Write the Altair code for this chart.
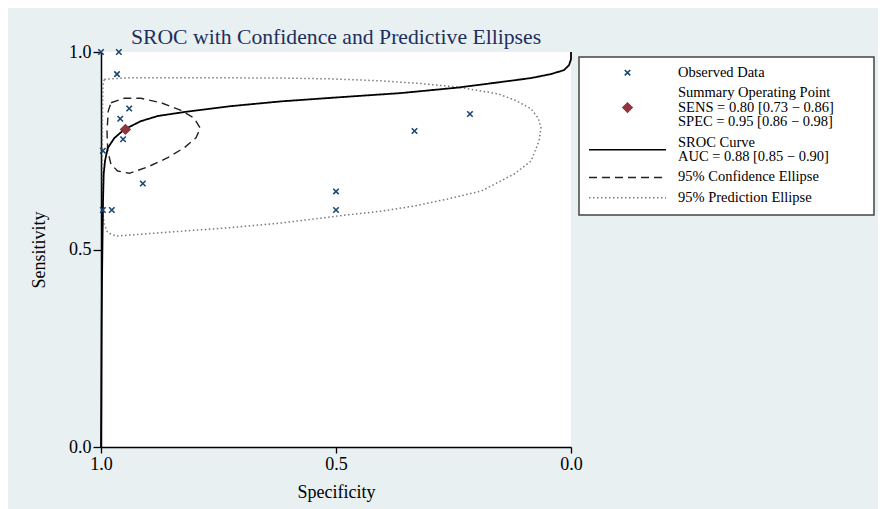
import altair as alt
import pandas as pd

SERIF = "Liberation Serif"

# ---------------- data ----------------
series_names = ["Observed Data", "Summary Operating Point", "SROC Curve",
                "95% Confidence Ellipse", "95% Prediction Ellipse"]
legend_labels = [
    "Observed Data",
    "Summary Operating Point\nSENS = 0.80 [0.73 − 0.86]\nSPEC = 0.95 [0.86 − 0.98]",
    "SROC Curve\nAUC = 0.88 [0.85 − 0.90]",
    "95% Confidence Ellipse",
    "95% Prediction Ellipse",
]

obs_spec = [1.0, 0.962, 0.966, 0.940, 0.959, 0.953, 0.996, 0.911, 0.996, 0.977, 0.500, 0.500, 0.333, 0.215]
obs_sens = [1.0, 1.0, 0.944, 0.857, 0.831, 0.779, 0.750, 0.667, 0.600, 0.600, 0.647, 0.600, 0.800, 0.843]

summary_spec = [0.948]
summary_sens = [0.804]

sroc_spec = [1.0, 0.9994, 0.9987, 0.9979, 0.9968, 0.9957, 0.9943, 0.9915, 0.9857, 0.9717, 0.9504,
             0.915, 0.879, 0.823, 0.723, 0.617, 0.498, 0.362, 0.240, 0.149, 0.085, 0.043, 0.015,
             0.004, 0.0, 0.0]
sroc_sens = [0.0, 0.116, 0.294, 0.420, 0.522, 0.623, 0.691, 0.724, 0.757, 0.782, 0.804,
             0.825, 0.838, 0.848, 0.863, 0.875, 0.885, 0.896, 0.910, 0.924, 0.934, 0.944, 0.954,
             0.967, 0.982, 1.0]

conf_spec = [0.9787, 0.9504, 0.9149, 0.8723, 0.8298, 0.8015, 0.7887, 0.7979, 0.8228, 0.8581,
             0.9006, 0.9398, 0.9645, 0.9787, 0.9857, 0.9872, 0.9845, 0.9787]
conf_sens = [0.8716, 0.8828, 0.8828, 0.8716, 0.8524, 0.8322, 0.8068, 0.7830, 0.7577, 0.7324,
             0.7089, 0.6929, 0.6987, 0.7157, 0.7494, 0.8000, 0.8506, 0.8716]

pred_spec = [0.993, 0.936, 0.787, 0.617, 0.511, 0.404, 0.319, 0.240, 0.155, 0.117, 0.085, 0.070,
             0.064, 0.068, 0.085, 0.121, 0.191, 0.262, 0.334, 0.404, 0.496, 0.617, 0.728, 0.868,
             0.968, 0.986, 0.993, 0.995, 0.997, 0.997, 0.996, 0.993]
pred_sens = [0.931, 0.935, 0.935, 0.934, 0.932, 0.927, 0.920, 0.911, 0.894, 0.877, 0.856, 0.833,
             0.808, 0.775, 0.724, 0.691, 0.648, 0.628, 0.610, 0.597, 0.585, 0.567, 0.555, 0.543,
             0.534, 0.543, 0.564, 0.580, 0.673, 0.825, 0.914, 0.931]

tick_values = [0.0, 0.5, 1.0]

# ---------------- tables ----------------
def frame(name, xs, ys):
    return pd.DataFrame({"series": name, "spec": xs, "sens": ys, "ord": list(range(len(xs)))})

points_df = pd.concat([frame(series_names[0], obs_spec, obs_sens),
                       frame(series_names[1], summary_spec, summary_sens)], ignore_index=True)
sroc_df = frame(series_names[2], sroc_spec, sroc_sens)
conf_df = frame(series_names[3], conf_spec, conf_sens)
pred_df = frame(series_names[4], pred_spec, pred_sens)

# legend rows: vertical slot derived from the number of text lines of each label
LINE_H, GAP, FIRST = 14.5, 5.9, 20.7
n_lines = [lab.count("\n") + 1 for lab in legend_labels]
pos, text_pos, acc = [], [], 0
for i, n in enumerate(n_lines):
    c = FIRST + LINE_H * acc + GAP * i + LINE_H * (n - 1) / 2
    pos.append(c)
    text_pos.append(c - LINE_H * (n - 1) / 2)
    acc += n
legend_df = pd.DataFrame({"series": series_names, "label": legend_labels,
                          "pos": pos, "text_pos": text_pos})
box_df = pd.DataFrame({"box": [0]})

# ---------------- shared scales ----------------
stroke_scale = alt.Scale(domain=series_names,
                         range=["#1a476f", "#90353b", "#000000", "#222222", "#7a7a7a"])
fill_scale = alt.Scale(domain=series_names,
                       range=["transparent", "#90353b", "transparent", "transparent", "transparent"])
shape_scale = alt.Scale(domain=series_names,
                        range=["M-1,-1L1,1M-1,1L1,-1", "diamond", "circle", "circle", "circle"])
size_scale = alt.Scale(domain=series_names, range=[30, 240, 30, 30, 30])
dash_scale = alt.Scale(domain=series_names, range=[[1, 0], [1, 0], [1, 0], [8, 5], [1.5, 2.5]])

x_enc = alt.X("spec:Q", scale=alt.Scale(domain=[0, 1], reverse=True, nice=False, zero=False),
              axis=alt.Axis(values=tick_values, format=".1f", title="Specificity", grid=False,
                            domainColor="black", domainWidth=1.5, tickColor="black", tickWidth=1.3,
                            tickSize=6, labelFont=SERIF, labelFontSize=18, labelColor="black",
                            labelPadding=2, labelFlush=False, titleFont=SERIF, titleFontSize=18,
                            titleFontWeight="normal", titleColor="black", titlePadding=10))
y_enc = alt.Y("sens:Q", scale=alt.Scale(domain=[0, 1], nice=False, zero=False),
              axis=alt.Axis(values=tick_values, format=".1f", title="Sensitivity", grid=False,
                            domainColor="black", domainWidth=1.5, tickColor="black", tickWidth=1.3,
                            tickSize=8, labelFont=SERIF, labelFontSize=18, labelColor="black",
                            labelPadding=2, labelFlush=False, titleFont=SERIF, titleFontSize=18,
                            titleFontWeight="normal", titleColor="black", titlePadding=20))

points = alt.Chart(points_df).mark_point(opacity=1, strokeWidth=1.6).encode(
    x=x_enc, y=y_enc,
    stroke=alt.Stroke("series:N", scale=stroke_scale, legend=None),
    fill=alt.Fill("series:N", scale=fill_scale, legend=None),
    shape=alt.Shape("series:N", scale=shape_scale, legend=None),
    size=alt.Size("series:N", scale=size_scale, legend=None),
)

def line_layer(df, width):
    return alt.Chart(df).mark_line(strokeWidth=width, strokeCap="butt").encode(
        x=x_enc, y=y_enc, order="ord:Q",
        stroke=alt.Stroke("series:N", scale=stroke_scale, legend=None),
        strokeDash=alt.StrokeDash("series:N", scale=dash_scale, legend=None),
    )

main = alt.layer(
    line_layer(pred_df, 1.5),
    line_layer(conf_df, 1.4),
    line_layer(sroc_df, 1.8),
    points,
).properties(
    width=470, height=395,
    title=alt.Title("SROC with Confidence and Predictive Ellipses", font=SERIF, fontSize=21.7,
                    fontWeight="normal", color="#1e2f5e", anchor="middle", frame="group",
                    offset=2, dy=8),
)

# ---------------- legend panel ----------------
leg_scale = alt.Scale(domain=[0, 163], range=[0, 163], nice=False, zero=False)
leg_y = alt.Y("pos:Q", scale=leg_scale, axis=None)
point_rows = alt.FieldOneOfPredicate(field="series", oneOf=series_names[:2])
line_rows = alt.FieldOneOfPredicate(field="series", oneOf=series_names[2:])

leg_box = alt.Chart(box_df).mark_rect(fill="white", stroke="#444444", strokeWidth=1.5).encode(
    x=alt.value(0), x2=alt.value(295), y=alt.value(5), y2=alt.value(163))
leg_points = alt.Chart(legend_df).transform_filter(point_rows).mark_point(opacity=1, strokeWidth=1.6).encode(
    x=alt.value(48.5), y=leg_y,
    stroke=alt.Stroke("series:N", scale=stroke_scale, legend=None),
    fill=alt.Fill("series:N", scale=fill_scale, legend=None),
    shape=alt.Shape("series:N", scale=shape_scale, legend=None),
    size=alt.Size("series:N", scale=size_scale, legend=None),
)
leg_lines = alt.Chart(legend_df).transform_filter(line_rows).mark_rule(strokeWidth=1.5, strokeCap="butt").encode(
    x=alt.value(10), x2=alt.value(87), y=leg_y,
    stroke=alt.Stroke("series:N", scale=stroke_scale, legend=None),
    strokeDash=alt.StrokeDash("series:N", scale=dash_scale, legend=None),
)
leg_text = alt.Chart(legend_df).mark_text(
    align="left", baseline="middle", lineBreak="\n", lineHeight=LINE_H,
    font=SERIF, fontSize=14.5, color="black",
).encode(x=alt.value(99), y=alt.Y("text_pos:Q", scale=leg_scale, axis=None), text="label:N")

legend_panel = alt.layer(leg_box, leg_lines, leg_points, leg_text).properties(
    width=295, height=163,
    view=alt.ViewBackground(fill="transparent", stroke="transparent"),
)

chart = alt.hconcat(main, legend_panel, spacing=8, bounds="flush").properties(
    padding={"left": 22, "top": 19, "right": 2, "bottom": 8},
    background="#e8f0f2",
).configure_view(fill="white", stroke=None)

chart.save("out.html", embed_options={"renderer": "svg", "actions": False})
